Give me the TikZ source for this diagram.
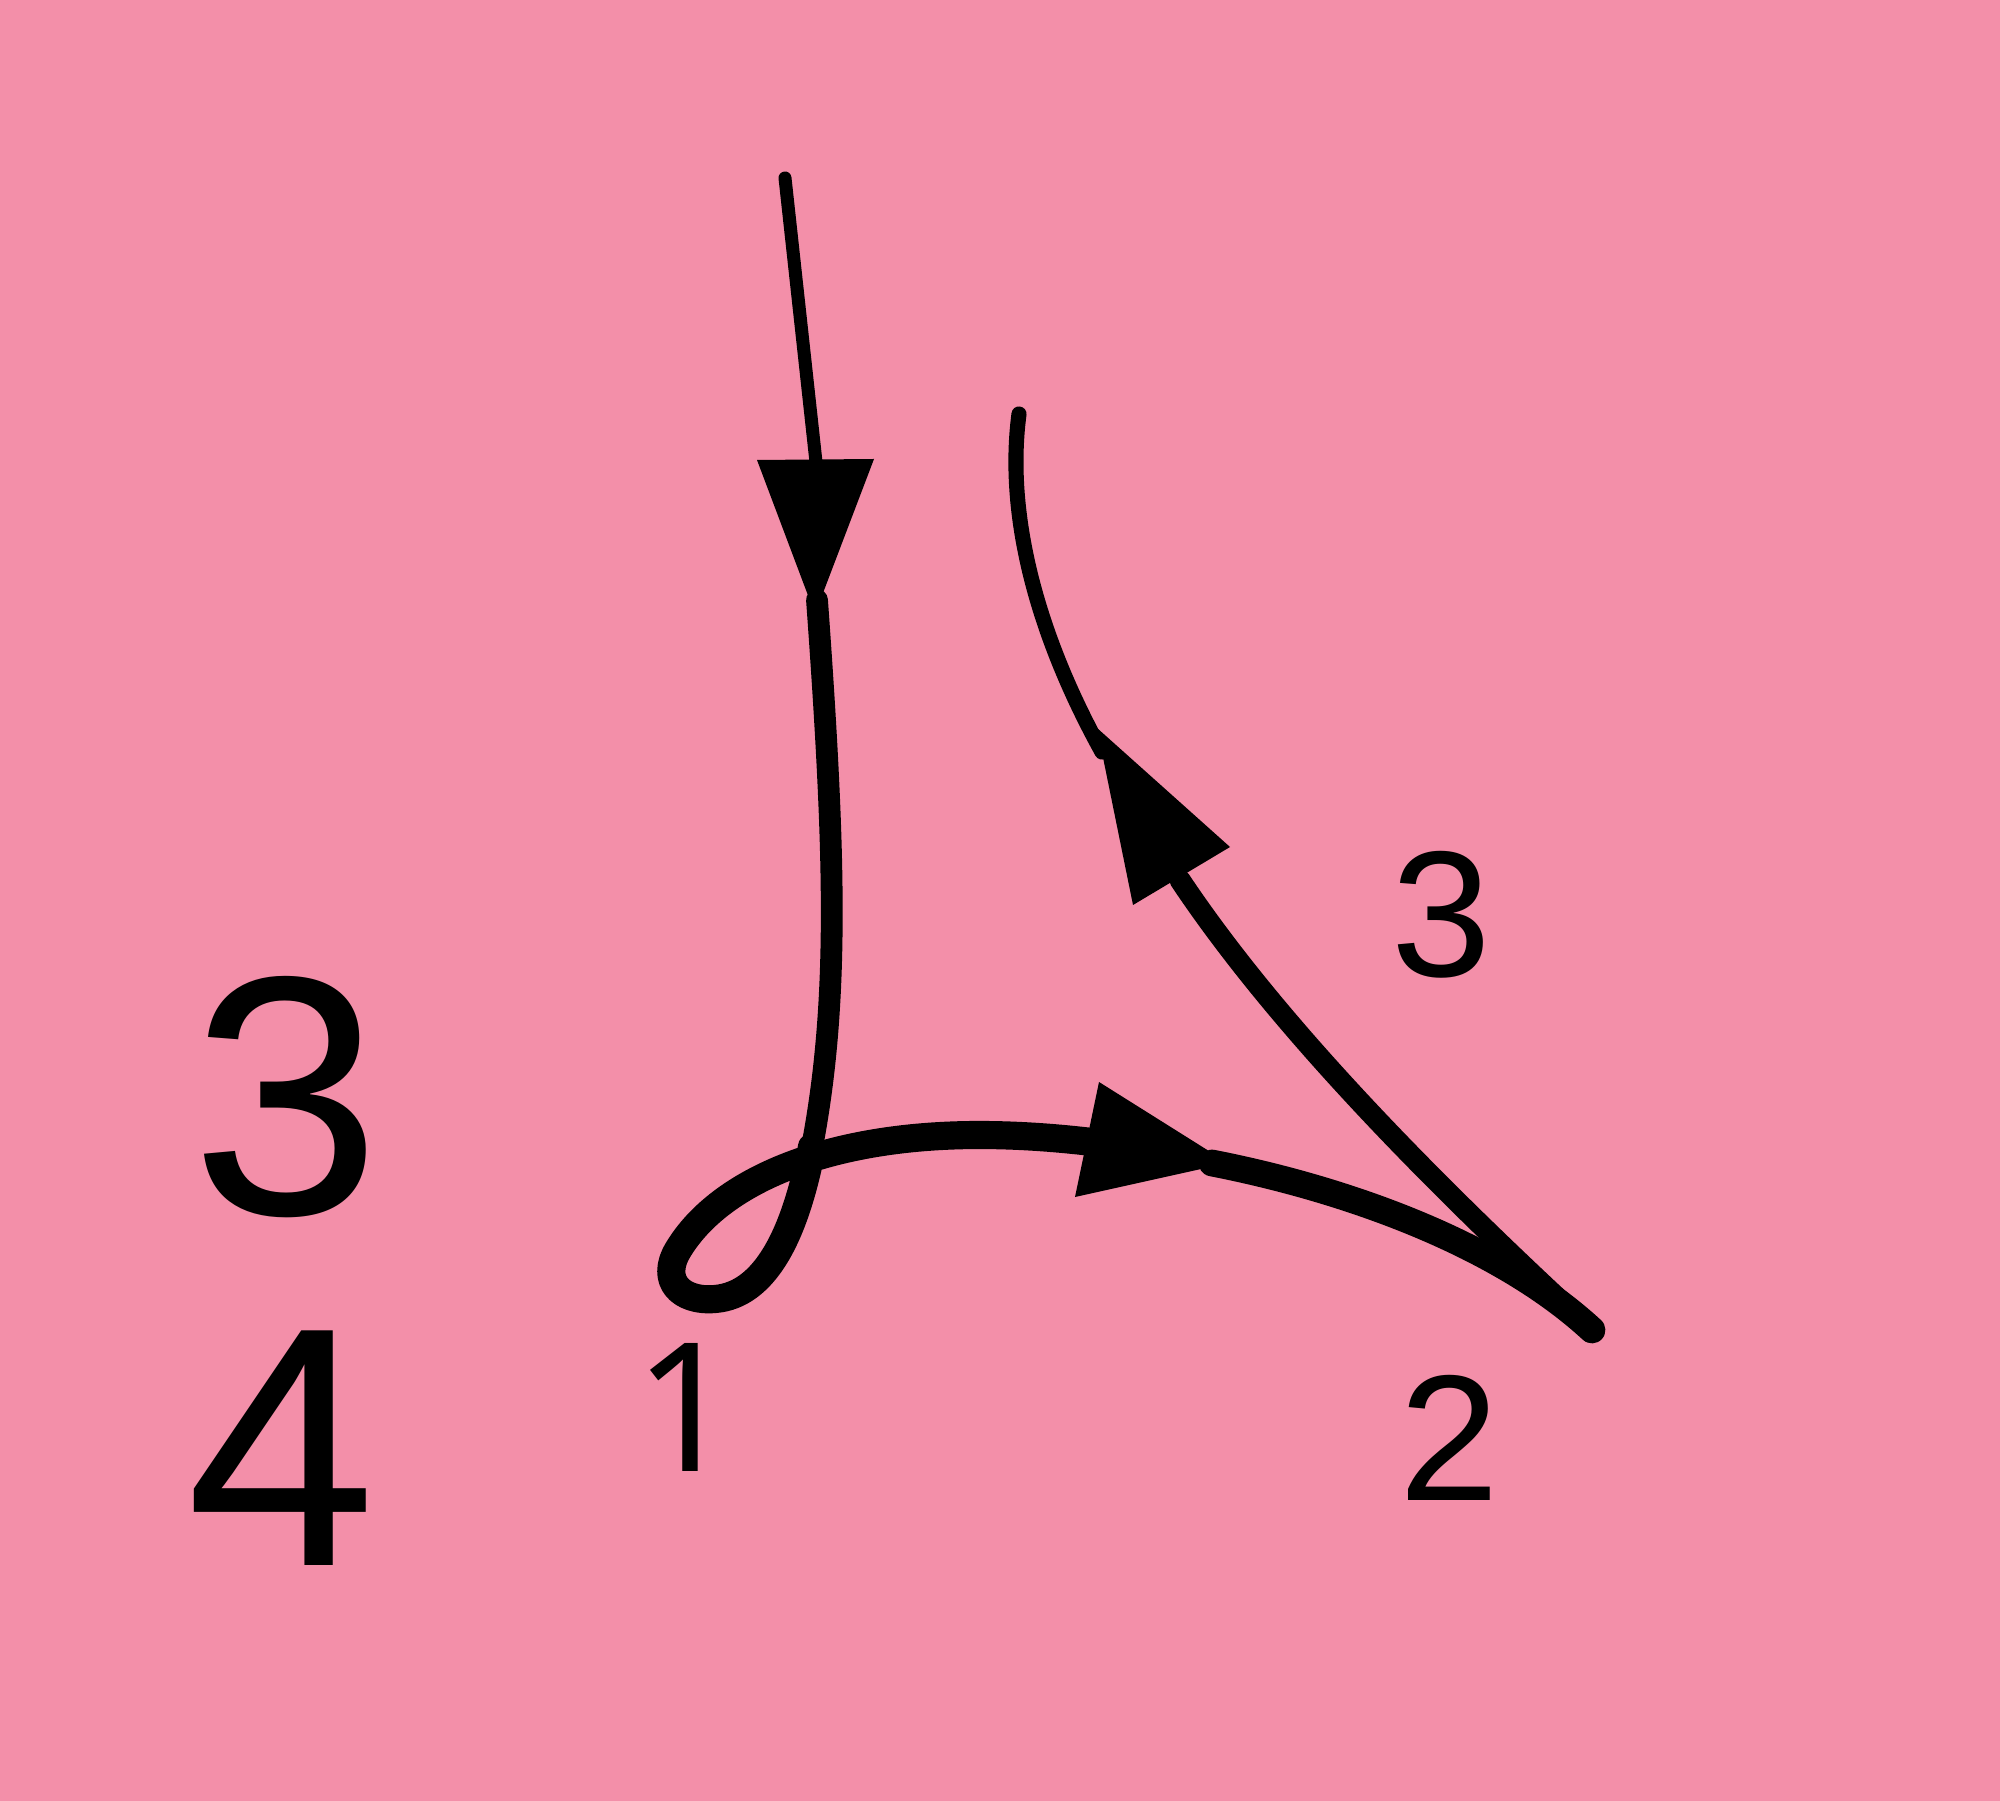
\documentclass[tikz,border=0pt]{standalone}
\usepackage{fontspec}
\setmainfont{Liberation Sans}
\newfontfamily\onefont{Noto Sans}
\definecolor{bgpink}{RGB}{243,143,169}
\begin{document}
\begin{tikzpicture}[x=0.01cm,y=-0.01cm,line cap=round,line join=round]
\tikzset{
  lbl/.style={inner sep=0pt,font=\fontsize{51}{60}\selectfont},
  onelbl/.style={inner sep=0pt,font=\onefont\fontsize{51}{60}\selectfont},
  biglbl/.style={inner sep=0pt,font=\fontsize{97}{110}\selectfont},
  tip/.style={fill=black,draw=none},
  strand/.style={draw=black}
}
\fill[bgpink] (0,0) rectangle (2000,1801);
\useasboundingbox (0,0) rectangle (2000,1801);

% named points
\coordinate (a0) at (785,178);
\coordinate (a1) at (816,462);
\coordinate (a2) at (817,600);
\coordinate (x1) at (812,1147);
\coordinate (b1) at (1100,1143);
\coordinate (b2) at (1212,1163);
\coordinate (end) at (1592,1330);
\coordinate (c1) at (1180,880);
\coordinate (c2) at (1102,752);
\coordinate (c0) at (1019,414);

% strand 1: top to loop
\draw[strand,line width=3.7pt] (a0) -- (a1);
\fill[tip] (757,460) -- (874,459) -- (815,614) -- cycle;
\draw[strand,line width=6.2pt] (a2) .. controls (835,850) and (840,1000) .. (x1);
\draw[strand,line width=8pt] (x1) .. controls (795,1235) and (765,1295) .. (715,1299)
   .. controls (680,1302) and (660,1280) .. (678,1250)
   .. controls (720,1180) and (830,1135) .. (979,1135)
   .. controls (1020,1135) and (1060,1138) .. (b1);
\fill[tip] (1099,1082) -- (1075,1197) -- (1228,1163) -- cycle;
\draw[strand,line width=7.6pt] (b2) .. controls (1350,1190) and (1500,1245) .. (end);

% strand 3
\draw[strand,line width=6pt] (end) .. controls (1440,1190) and (1280,1030) .. (c1);
\fill[tip] (1097,728) -- (1230,847) -- (1133,905) -- cycle;
\draw[strand,line width=4.3pt] (c2) .. controls (1040,640) and (1005,520) .. (c0);

% labels
\node[onelbl] (n1) at (686,1407) {1};
\node[lbl] (n2) at (1449,1438) {2};
\node[lbl] (n3) at (1441,915) {3};
\node[biglbl] (b3) at (286,1097) {3};
\node[biglbl] (b4) at (281,1448) {4};
\end{tikzpicture}
\end{document}
